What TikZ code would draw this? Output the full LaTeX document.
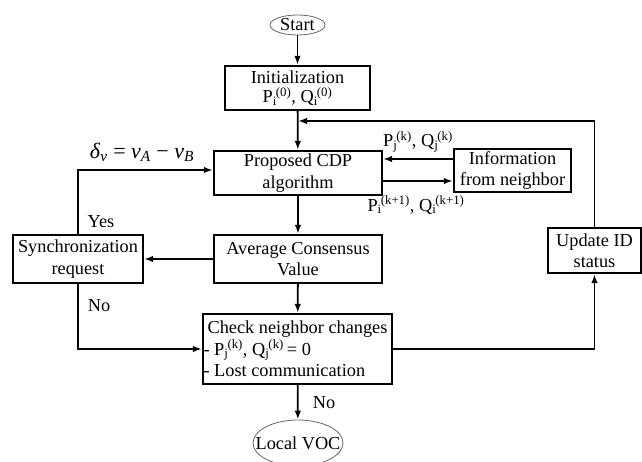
\documentclass[tikz,border=0pt]{standalone}
\usepackage{fontspec}
\setmainfont{Liberation Serif}
\usetikzlibrary{shapes.geometric,arrows.meta}
\newcommand{\PQsym}[3]{#1\textsubscript{#2}\kern-0.05em\textsuperscript{#3}}
\begin{document}
\begin{tikzpicture}[x=1pt,y=-1pt,
  every node/.style={font=\fontsize{18.3}{21.5}\selectfont},
  box/.style={draw,line width=2.2pt,rectangle,inner sep=2pt,align=center},
  oval/.style={draw=gray!80!black,line width=0.8pt,ellipse,inner sep=0pt},
  arr/.style={line width=1.8pt,-{Latex[length=9pt,width=6.5pt]}},
  lbl/.style={inner sep=0pt}]
\useasboundingbox (0,0) rectangle (642,462);
\node[oval,minimum width=55,minimum height=20] (start) at (297.5,25) {\makebox[30pt]{Start}};
\node[box,minimum width=145,minimum height=44] (init) at (297.5,88) {Initialization\\[-2pt]\PQsym{P}{i}{(0)}, \PQsym{Q}{i}{(0)}};
\node[box,minimum width=168,minimum height=44] (cdp) at (298,173) {Proposed CDP\\algorithm};
\node[box,minimum width=117,minimum height=43] (info) at (512.5,170.5) {Information\\from neighbor};
\node[box,minimum width=168,minimum height=48] (avg) at (298,259) {Average Consensus\\Value};
\node[box,minimum width=130,minimum height=48] (sync) at (78,259) {Synchronization\\request};
\node[box,minimum width=93,minimum height=45] (upd) at (594.5,250.5) {Update ID\\status};
\node[box,minimum width=189,minimum height=70,align=left,inner sep=3pt] (check) at (297.5,349)
  {Check neighbor changes\\\hspace*{-4pt}- \PQsym{P}{j}{(k)}, \PQsym{Q}{j}{(k)}\,= 0\\\hspace*{-4pt}- Lost communication};
\node[oval,minimum width=90,minimum height=46] (local) at (298,443) {\makebox[50pt]{Local VOC}};
\coordinate (fb) at (298,121);

\draw[arr] (start) -- (init);
\draw[arr] (init) -- (cdp);
\draw[arr] (upd.north) |- (fb);
\draw[arr] ([yshift=11.5pt]info.west) -- ([yshift=11.5pt]info.west -| cdp.east);
\draw[arr] ([yshift=-10.5pt]info.west -| cdp.east) -- ([yshift=-10.5pt]info.west);
\draw[arr] (cdp) -- (avg);
\draw[arr] (avg) -- (sync);
\draw[arr] (avg) -- (check);
\draw[arr] (sync.north) |- ([yshift=3pt]cdp.west);
\draw[arr] (sync.south) |- (check.west);
\draw[arr] (check.east) -| (upd.south);
\draw[arr] (check) -- (local);

\node[lbl] (l1) at (418,142) {\PQsym{P}{j}{(k)}, \PQsym{Q}{j}{(k)}};
\node[lbl] (l2) at (416,205) {\PQsym{P}{i}{(k+1)}, \PQsym{Q}{i}{(k+1)}};
\node[lbl,font=\fontsize{22}{24}\selectfont] (dl) at (142,152) {\textit{δ}\textsubscript{\textit{v}} = \textit{v}\textsubscript{\textit{A}} − \textit{v}\textsubscript{\textit{B}}};
\node[lbl] (yes) at (101,222) {Yes};
\node[lbl] (no1) at (99,306) {No};
\node[lbl] (no2) at (324,403) {No};
\end{tikzpicture}
\end{document}
